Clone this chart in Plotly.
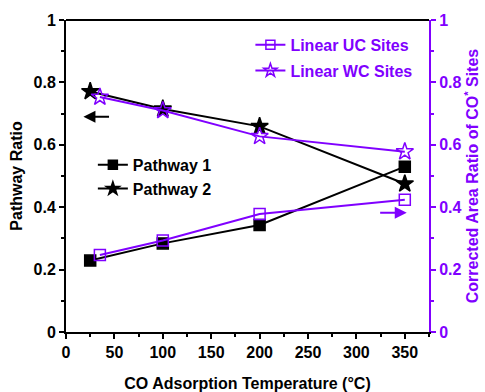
import plotly.graph_objects as go

temp_pathway = [25, 100, 200, 350]
pathway1 = [0.229, 0.284, 0.343, 0.530]
pathway2 = [0.771, 0.715, 0.659, 0.475]

temp_sites = [35, 100, 200, 350]
linear_uc = [0.247, 0.293, 0.378, 0.424]
linear_wc = [0.753, 0.710, 0.627, 0.578]

PURPLE = "#8000FF"
FONT = "Liberation Sans, Arial, sans-serif"

series = [
    # name, x, y, color, symbol, plot size, legend size, yaxis, legend
    ("Pathway 1", temp_pathway, pathway1, "black", "square", 11, 9, "y", "legend"),
    ("Pathway 2", temp_pathway, pathway2, "black", "star", 13, 10, "y", "legend"),
    ("Linear UC Sites", temp_sites, linear_uc, PURPLE, "square-open", 11, 9, "y2", "legend2"),
    ("Linear WC Sites", temp_sites, linear_wc, PURPLE, "star-open", 13, 10, "y2", "legend2"),
]

fig = go.Figure()
for name, xs, ys, color, symbol, size, lsize, yax, leg in series:
    mline = dict(width=1.5, color=color)
    fig.add_trace(go.Scatter(
        x=xs, y=ys, name=name, mode="lines+markers", showlegend=False,
        line=dict(color=color, width=2),
        marker=dict(symbol=symbol, size=size, color=color, line=mline),
        yaxis=yax))
    # legend entry with smaller marker, like the original
    fig.add_trace(go.Scatter(
        x=[None], y=[None], name=name, mode="lines+markers",
        line=dict(color=color, width=2),
        marker=dict(symbol=symbol, size=lsize, color=color, line=mline),
        yaxis=yax, legend=leg, legendgroup=name))

# direction arrows
fig.add_annotation(x=18, y=0.69, ax=46, ay=0.69, xref="x", yref="y", axref="x", ayref="y",
                   showarrow=True, arrowhead=2, arrowsize=1.2, arrowwidth=2, arrowcolor="black", text="")
fig.add_annotation(x=352, y=0.382, ax=323, ay=0.382, xref="x", yref="y2", axref="x", ayref="y2",
                   showarrow=True, arrowhead=2, arrowsize=1.2, arrowwidth=2, arrowcolor=PURPLE, text="")

axis_common = dict(showgrid=False, zeroline=False, ticks="outside", ticklen=5, tickwidth=2,
                   linewidth=2, showline=True, automargin=False)

BOLD16 = dict(size=16, weight="bold", family=FONT)

fig.update_layout(
    width=485, height=392,
    margin=dict(l=66, r=56, t=20, b=60),
    plot_bgcolor="white", paper_bgcolor="white",
    font=dict(family=FONT, size=16, color="black", weight="bold"),
    xaxis=dict(**axis_common, range=[0, 375], dtick=50, linecolor="black", tickcolor="black",
               minor=dict(ticks="outside", ticklen=3, tickwidth=2, dtick=25, tickcolor="black"),
               title=dict(text="CO Adsorption Temperature (°C)", font=BOLD16, standoff=22),
               tickfont=dict(**BOLD16, color="black")),
    yaxis=dict(**axis_common, range=[0, 1], dtick=0.2, linecolor="black", tickcolor="black",
               minor=dict(ticks="outside", ticklen=3, tickwidth=2, dtick=0.1, tickcolor="black"),
               title=dict(text="Pathway Ratio", font=BOLD16, standoff=7),
               tickfont=dict(**BOLD16, color="black")),
    yaxis2=dict(**axis_common, range=[0, 1], dtick=0.2, overlaying="y", side="right",
                linecolor=PURPLE, tickcolor=PURPLE,
                minor=dict(ticks="outside", ticklen=3, tickwidth=2, dtick=0.1, tickcolor=PURPLE),
                tickfont=dict(**BOLD16, color=PURPLE),
                title=dict(text="Corrected Area Ratio of CO<sup>*</sup> Sites",
                           font=dict(**BOLD16, color=PURPLE), standoff=2)),
    legend=dict(x=0.074, y=0.59, xanchor="left", yanchor="top", bgcolor="rgba(0,0,0,0)",
                font=dict(**BOLD16, color="black"), tracegroupgap=0),
    legend2=dict(x=0.508, y=0.975, xanchor="left", yanchor="top", bgcolor="rgba(0,0,0,0)",
                 font=dict(**BOLD16, color=PURPLE), tracegroupgap=2),
    shapes=[dict(type="line", xref="paper", yref="paper", x0=0, x1=1, y0=1, y1=1,
                 line=dict(color="black", width=2))],
)

fig.write_html("out.html", config={"displayModeBar": False},
               post_script="document.body.style.margin='0';")
